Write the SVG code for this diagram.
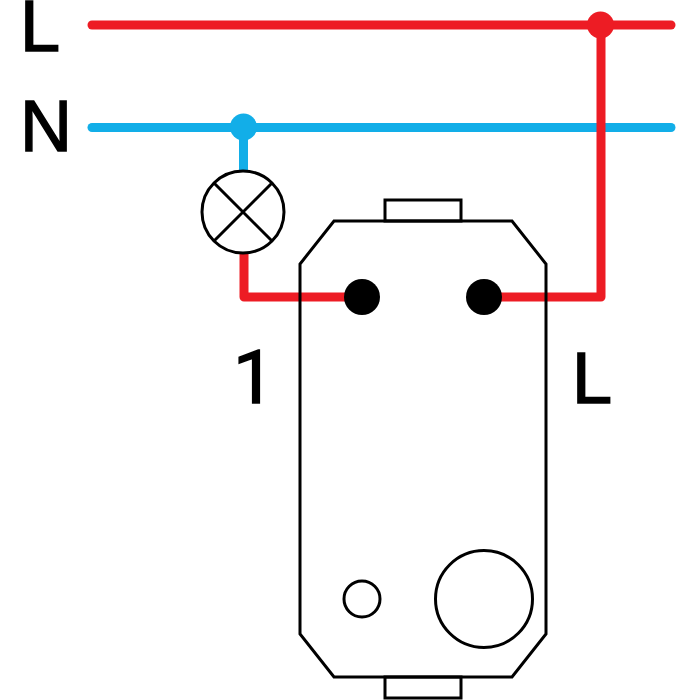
<svg xmlns="http://www.w3.org/2000/svg" width="700" height="700" viewBox="0 0 700 700">
<style>
.o{fill:none;stroke:#000;stroke-width:3}
.w{fill:#fff;stroke:#000;stroke-width:3}
.r{fill:none;stroke:#ed1c24;stroke-width:9;stroke-linecap:round;stroke-linejoin:round}
.b{fill:none;stroke:#12aee8;stroke-width:9;stroke-linecap:round}
.t{font-family:"Liberation Sans",Arial,sans-serif;font-size:72px;fill:#000;stroke:#000;stroke-width:1.500}
.u{font-family:Roboto,sans-serif;font-size:74px;fill:#000;stroke:#000;stroke-width:1.500}
</style>
<rect width="700" height="700" fill="#fff"/>
<g id="connectors">
<path class="b" d="M92 127.500H671"/>
<path class="b" d="M243.500 127V185" stroke-linecap="butt"/>
<path class="r" d="M92 25H671"/>
<path class="r" d="M244 252V297H362"/>
<path class="r" d="M484 297H601V25"/>
</g>
<g id="device">
<rect class="o" x="385" y="200" width="76" height="21"/>
<rect class="o" x="385" y="677" width="76" height="21"/>
<path class="o" d="M334 221H512L546 264V634L512 677H334L300 634V264Z"/>
<circle class="o" cx="484" cy="599" r="48.500"/>
<circle class="o" cx="362" cy="599" r="18"/>
</g>
<g id="lamp">
<circle class="w" cx="243" cy="212" r="41"/>
<path class="o" d="M214 183L272 241M272 183L214 241"/>
</g>
<g id="junctions">
<circle cx="600.500" cy="25" r="13.500" fill="#ed1c24"/>
<circle cx="243.500" cy="127" r="13.500" fill="#12aee8"/>
</g>
<g id="terminal-1"><circle cx="362" cy="297" r="18" fill="#000"/></g>
<g id="terminal-L"><circle cx="484" cy="297" r="18" fill="#000"/></g>
<g id="labels">
<text class="t" x="20" y="51">L</text>
<text class="t" x="20" y="151">N</text>
<text class="u" x="233" y="403">1</text>
<text class="t" x="572" y="403">L</text>
</g>
</svg>
